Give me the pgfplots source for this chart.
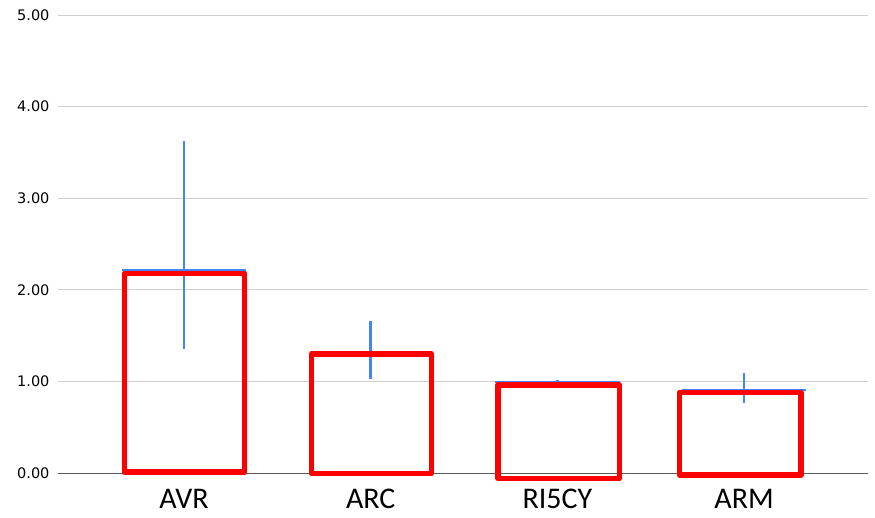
\documentclass[border=0pt]{standalone}
\usepackage{pgfplots}
\pgfplotsset{compat=1.18}
\usepackage{fontspec}
\setmainfont{DejaVu Sans}
\newfontfamily\carlito{Carlito}
\definecolor{gridgray}{RGB}{208,208,208}
\definecolor{axisgray}{RGB}{90,90,90}
\definecolor{errblue}{RGB}{66,133,244}
\definecolor{boxred}{RGB}{255,0,0}
\begin{document}
\begin{tikzpicture}
\useasboundingbox (-58pt,-44pt) rectangle (817pt,473pt);
\begin{axis}[
  at={(0pt,0pt)}, anchor=south west,
  scale only axis, width=810pt, height=458pt,
  xmin=-0.675, xmax=3.664, ymin=0, ymax=5,
  axis line style={draw=none},
  ytick={0,1,2,3,4,5},
  ymajorgrids, grid style={gridgray, line width=1pt},
  major tick length=0pt,
  xtick={0,1,2,3}, xticklabels={AVR,ARC,RI5CY,ARM},
  xticklabel style={font=\carlito\fontsize{30}{32}\selectfont, inner sep=0pt, text depth=0pt, anchor=north, yshift=-16pt},
  yticklabel style={font=\fontsize{14.5}{16}\selectfont, xshift=-5pt},
  /pgf/number format/assume math mode=true,
  yticklabel={\pgfmathprintnumber[fixed,fixed zerofill,precision=2]{\tick}},
  unbounded coords=jump,
  clip=false,
]
% x axis baseline
\addplot[axisgray, line width=1pt] coordinates {(-0.675,0) (3.664,0)};
% blue mean lines
\addplot[errblue, line width=2.2pt] coordinates {
 (-0.333,2.22) (0.333,2.22) (0.5,nan)
 (0.667,1.28) (1.333,1.28) (1.5,nan)
 (1.667,0.99) (2.333,0.99) (2.5,nan)
 (2.667,0.91) (3.333,0.91)};
% blue error bars
\addplot[errblue, line width=2.5pt] coordinates {
 (0,1.35) (0,3.62) (0.5,nan)
 (1,1.03) (1,1.66) (1.5,nan)
 (2,0.97) (2,1.01) (2.5,nan)
 (3,0.76) (3,1.09)};
% red boxes
\addplot[boxred, line width=5.5pt, line join=round] coordinates {
 (-0.32,0.01) (0.325,0.01) (0.325,2.18) (-0.32,2.18) (-0.32,0.01) (0.325,0.01) (0.5,nan)
 (0.683,-0.005) (1.326,-0.005) (1.326,1.30) (0.683,1.30) (0.683,-0.005) (1.326,-0.005) (1.5,nan)
 (1.682,-0.06) (2.333,-0.06) (2.333,0.96) (1.682,0.96) (1.682,-0.06) (2.333,-0.06) (2.5,nan)
 (2.655,-0.02) (3.305,-0.02) (3.305,0.88) (2.655,0.88) (2.655,-0.02) (3.305,-0.02)};
\end{axis}
\end{tikzpicture}
\end{document}
